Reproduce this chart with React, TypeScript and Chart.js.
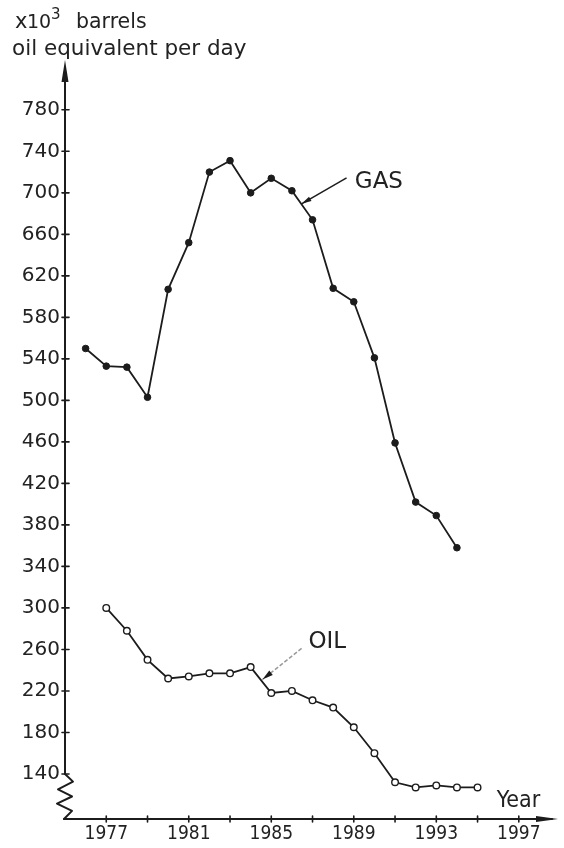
import React, { useEffect, useRef } from 'react';
import { Chart, registerables } from 'chart.js';

Chart.register(...registerables);

// ---- data ----
const gasYears = [1976, 1977, 1978, 1979, 1980, 1981, 1982, 1983, 1984, 1985, 1986, 1987, 1988, 1989, 1990, 1991, 1992, 1993, 1994];
const gasValues = [550, 533, 532, 503, 607, 652, 720, 731, 700, 714, 702, 674, 608, 595, 541, 459, 402, 389, 358];

const oilYears = [1977, 1978, 1979, 1980, 1981, 1982, 1983, 1984, 1985, 1986, 1987, 1988, 1989, 1990, 1991, 1992, 1993, 1994, 1995];
const oilValues = [300, 278, 250, 232, 234, 237, 237, 243, 218, 220, 211, 204, 185, 160, 132, 127, 129, 127, 127];

const yTickValues = [140, 180, 220, 260, 300, 340, 380, 420, 460, 500, 540, 580, 620, 660, 700, 740, 780];
const xTickYears = [1977, 1979, 1981, 1983, 1985, 1987, 1989, 1991, 1993, 1995, 1997];
const xLabelYears = [1977, 1981, 1985, 1989, 1993, 1997];

const titleLine1 = ['x', '10', '3', 'barrels'];
const titleLine2 = 'oil equivalent per day';
const xAxisLabel = 'Year';

// annotation anchors in data space
const gasNote = { text: 'GAS', textAt: [1989.05, 705], from: [1988.65, 714.5], to: [1986.47, 689.4] };
const oilNote = { text: 'OIL', textAt: [1986.8, 261], from: [1986.47, 261], to: [1984.57, 231] };
const yearLabelAt = [1995.93, 108];

const INK = '#1c1c1c';
const TEXT = '#222222';

function arrowHead(ctx: CanvasRenderingContext2D, fx: number, fy: number, tx: number, ty: number, len: number, half: number) {
  const a = Math.atan2(ty - fy, tx - fx);
  const bx = tx - Math.cos(a) * len;
  const by = ty - Math.sin(a) * len;
  const nx = -Math.sin(a) * half;
  const ny = Math.cos(a) * half;
  ctx.beginPath();
  ctx.moveTo(tx, ty);
  ctx.lineTo(bx + nx, by + ny);
  ctx.lineTo(bx - nx, by - ny);
  ctx.closePath();
  ctx.fill();
}

const handPlugin = {
  id: 'handDrawn',
  beforeDatasetsDraw(chart: any) {
    const { ctx, chartArea: ca, scales } = chart;
    const x = scales.x;
    const y = scales.y;
    const ax = ca.left;
    const ay = ca.bottom;
    ctx.save();
    ctx.strokeStyle = INK;
    ctx.fillStyle = INK;
    ctx.lineWidth = 2;
    ctx.lineCap = 'round';
    ctx.lineJoin = 'round';
    const breakTop = y.getPixelForValue(yTickValues[0]);
    // y axis line
    ctx.beginPath();
    ctx.moveTo(ax, breakTop);
    ctx.lineTo(ax, ca.top + 10);
    ctx.stroke();
    arrowHead(ctx, ax, ca.top + 30, ax, ca.top, 22, 3.5);
    // zigzag break
    const zz = [[0, 0], [8, 0.17], [-7, 0.34], [7, 0.5], [-8, 0.66], [7, 0.82], [-1, 1]];
    const h = ay - breakTop;
    ctx.beginPath();
    zz.forEach(([dx, t], i) => {
      const px = ax + dx;
      const py = breakTop + t * h;
      if (i === 0) ctx.moveTo(px, py); else ctx.lineTo(px, py);
    });
    ctx.stroke();
    // x axis
    ctx.beginPath();
    ctx.moveTo(ax - 1, ay);
    ctx.lineTo(ca.right - 6, ay);
    ctx.stroke();
    arrowHead(ctx, ca.right - 30, ay, ca.right, ay, 22, 3);
    // tick marks
    ctx.lineWidth = 1.6;
    yTickValues.forEach((v) => {
      const py = y.getPixelForValue(v);
      ctx.beginPath();
      ctx.moveTo(ax - 3, py);
      ctx.lineTo(ax + 4, py);
      ctx.stroke();
    });
    xTickYears.forEach((v) => {
      const px = x.getPixelForValue(v);
      ctx.beginPath();
      ctx.moveTo(px, ay - 3);
      ctx.lineTo(px, ay + 3);
      ctx.stroke();
    });
    ctx.restore();
  },
  afterDraw(chart: any) {
    const { ctx, scales } = chart;
    const x = scales.x;
    const y = scales.y;
    const P = (p: number[]) => [x.getPixelForValue(p[0]), y.getPixelForValue(p[1])];
    ctx.save();
    ctx.fillStyle = TEXT;
    ctx.textBaseline = 'alphabetic';
    ctx.textAlign = 'left';
    // title
    ctx.font = '21px "DejaVu Sans"';
    ctx.fillText(titleLine1[0], 15, 28);
    ctx.font = '19px "DejaVu Sans"';
    ctx.fillText(titleLine1[1], 27, 28);
    ctx.font = '15px "DejaVu Sans"';
    ctx.fillText(titleLine1[2], 51, 19);
    ctx.font = '20.5px "DejaVu Sans"';
    ctx.fillText(titleLine1[3], 76, 28);
    ctx.font = '21.5px "DejaVu Sans"';
    ctx.fillText(titleLine2, 12, 55);

    // annotations
    ctx.font = '23px "DejaVu Sans"';
    let [tx, ty] = P(gasNote.textAt);
    ctx.fillText(gasNote.text, tx, ty);
    [tx, ty] = P(oilNote.textAt);
    ctx.fillText(oilNote.text, tx, ty);
    ctx.font = '23px "DejaVu Sans Condensed"';
    [tx, ty] = P(yearLabelAt);
    ctx.fillText(xAxisLabel, tx, ty);

    ctx.strokeStyle = INK;
    ctx.fillStyle = INK;
    ctx.lineWidth = 1.5;
    let [fx, fy] = P(gasNote.from);
    let [ex, ey] = P(gasNote.to);
    ctx.beginPath();
    ctx.moveTo(fx, fy);
    ctx.lineTo(ex, ey);
    ctx.stroke();
    arrowHead(ctx, fx, fy, ex, ey, 10, 2.5);

    [fx, fy] = P(oilNote.from);
    [ex, ey] = P(oilNote.to);
    ctx.strokeStyle = '#9a9a9a';
    ctx.setLineDash([4, 2]);
    ctx.beginPath();
    ctx.moveTo(fx, fy);
    ctx.lineTo(ex, ey);
    ctx.stroke();
    ctx.setLineDash([]);
    arrowHead(ctx, fx, fy, ex, ey, 11, 2.8);
    ctx.restore();
  },
};

export default function App() {
  const ref = useRef<HTMLCanvasElement | null>(null);
  useEffect(() => {
    if (!ref.current) return;
    const chart = new Chart(ref.current, {
      type: 'line',
      data: {
        datasets: [
          {
            label: 'GAS',
            data: gasYears.map((yr, i) => ({ x: yr, y: gasValues[i] })),
            borderColor: INK,
            borderWidth: 1.8,
            pointRadius: 3.3,
            pointBackgroundColor: INK,
            pointBorderColor: INK,
            pointBorderWidth: 1,
            tension: 0,
          },
          {
            label: 'OIL',
            data: oilYears.map((yr, i) => ({ x: yr, y: oilValues[i] })),
            borderColor: INK,
            borderWidth: 1.8,
            pointRadius: 3.3,
            pointBackgroundColor: '#ffffff',
            pointBorderColor: INK,
            pointBorderWidth: 1.4,
            tension: 0,
          },
        ],
      },
      options: {
        animation: false,
        responsive: false,
        events: [],
        layout: { padding: { top: 60, left: 0, right: 6, bottom: 0 } },
        plugins: { legend: { display: false }, tooltip: { enabled: false }, title: { display: false } },
        scales: {
          x: {
            type: 'linear',
            min: 1975,
            max: 1998.9,
            border: { display: false },
            grid: { display: false, drawTicks: false },
            afterBuildTicks: (s: any) => { s.ticks = xTickYears.map((v) => ({ value: v })); },
            afterFit: (s: any) => { s.height = 29; },
            ticks: {
              autoSkip: false,
              maxRotation: 0,
              padding: 4,
              color: TEXT,
              font: { family: '"DejaVu Sans Condensed"', size: 19 },
              callback: (v: any) => (xLabelYears.includes(Number(v)) ? String(v) : ''),
            },
          },
          y: {
            type: 'linear',
            min: 96.6,
            max: 828,
            border: { display: false },
            grid: { display: false, drawTicks: false },
            afterBuildTicks: (s: any) => { s.ticks = yTickValues.map((v) => ({ value: v })); },
            afterFit: (s: any) => { s.width = 65; },
            ticks: {
              autoSkip: false,
              padding: 5,
              color: TEXT,
              font: { family: '"DejaVu Sans"', size: 20 },
              callback: (v: any) => String(v),
            },
          },
        },
      },
      plugins: [handPlugin],
    } as any);
    return () => chart.destroy();
  }, []);
  return (
    <div style={{ position: 'fixed', left: 0, top: 0, width: 564, height: 848, background: '#fff' }}>
      <canvas ref={ref} width={564} height={848} style={{ display: 'block' }} />
    </div>
  );
}
